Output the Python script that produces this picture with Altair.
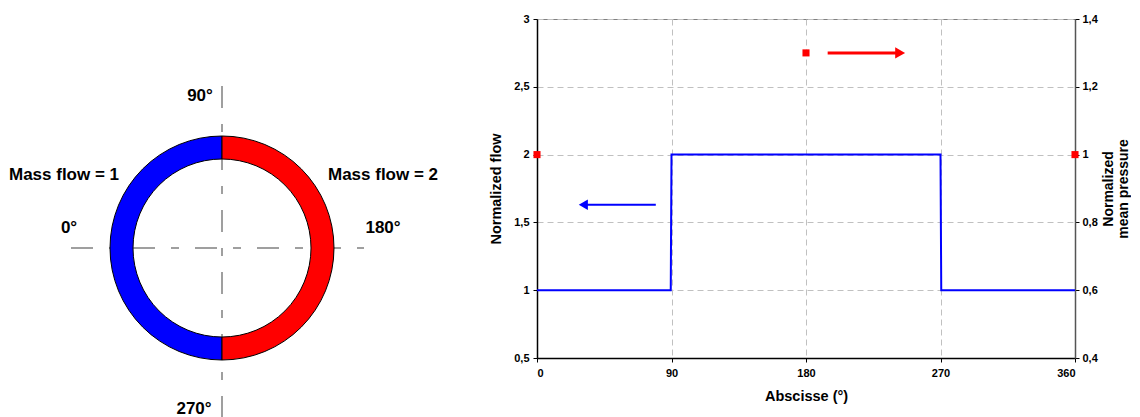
import math
import altair as alt
import pandas as pd

# ---------------- data ----------------
# left diagram (ring split in two halves)
half_labels = ["Mass flow = 1", "Mass flow = 2"]
half_colors = ["#0000ff", "#ff0000"]
half_theta_start = [math.pi, 0.0]
half_theta_end = [2 * math.pi, math.pi]
half_label_x = [-158, 161]
half_label_y = [68, 68]

angle_labels = ["0°", "90°", "180°", "270°"]
angle_label_x = [-153, -22, 161, -28]
angle_label_y = [15, 147, 15, -166]

# right chart
abscissa = [0, 89.5, 90, 270, 270.5, 360]
normalized_flow = [1, 1, 2, 2, 1, 1]
pressure_abscissa = [0, 180, 360]
normalized_pressure = [1.0, 1.3, 1.0]
flow_arrow_x = [79.5, 31]
flow_arrow_y = [1.63, 1.63]
pressure_arrow_x = [194.5, 243]
pressure_arrow_y = [1.3, 1.3]

x_ticks = [0, 90, 180, 270, 360]
flow_ticks = [0.5, 1, 1.5, 2, 2.5, 3]
pressure_ticks = [0.4, 0.6, 0.8, 1, 1.2, 1.4]

FONT = "Liberation Sans"

# ---------------- left diagram ----------------
W1, H1 = 479, 399
CX, CY = 213, 229
xs = alt.Scale(domain=[-CX, W1 - CX], nice=False, zero=False)
ys = alt.Scale(domain=[CY - H1, CY], nice=False, zero=False)

ring_df = pd.DataFrame({"label": half_labels, "color": half_colors,
                        "t0": half_theta_start, "t1": half_theta_end,
                        "cx": [0, 0], "cy": [0, 0],
                        "lx": half_label_x, "ly": half_label_y})
angle_df = pd.DataFrame({"label": angle_labels, "lx": angle_label_x, "ly": angle_label_y})
hline_df = pd.DataFrame({"x": [-151], "x2": [142], "y": [0]})
vline_df = pd.DataFrame({"x": [0], "y": [162], "y2": [-170]})

dash = [22, 16, 8, 16]
hline = alt.Chart(hline_df).mark_rule(color="#808080", strokeWidth=1.5, strokeDash=dash).encode(
    x=alt.X("x:Q", scale=xs, axis=None), x2="x2:Q", y=alt.Y("y:Q", scale=ys, axis=None))
vline = alt.Chart(vline_df).mark_rule(color="#808080", strokeWidth=1.5, strokeDash=dash).encode(
    x=alt.X("x:Q", scale=xs, axis=None), y=alt.Y("y:Q", scale=ys, axis=None), y2="y2:Q")
ring = alt.Chart(ring_df).mark_arc(radius=112, radius2=89, stroke="black", strokeWidth=1).encode(
    x=alt.X("cx:Q", scale=xs, axis=None), y=alt.Y("cy:Q", scale=ys, axis=None),
    theta=alt.Theta("t0:Q", scale=None), theta2="t1:Q",
    color=alt.Color("color:N", scale=None))
ring_text = alt.Chart(ring_df).mark_text(font=FONT, fontSize=17, fontWeight="bold",
                                         baseline="alphabetic", color="black").encode(
    x=alt.X("lx:Q", scale=xs, axis=None), y=alt.Y("ly:Q", scale=ys, axis=None), text="label:N")
angle_text = alt.Chart(angle_df).mark_text(font=FONT, fontSize=17, fontWeight="bold",
                                           baseline="alphabetic", color="black").encode(
    x=alt.X("lx:Q", scale=xs, axis=None), y=alt.Y("ly:Q", scale=ys, axis=None), text="label:N")

left = alt.layer(hline, vline, ring, ring_text, angle_text).properties(
    width=W1, height=H1, view=alt.ViewBackground(stroke=None))

# ---------------- right chart ----------------
flow_df = pd.DataFrame({"x": abscissa, "flow": normalized_flow})
pres_df = pd.DataFrame({"x": pressure_abscissa, "p": normalized_pressure})
farrow_df = pd.DataFrame({"x": flow_arrow_x, "flow": flow_arrow_y})
parrow_df = pd.DataFrame({"x": pressure_arrow_x, "p": pressure_arrow_y})

label_expr = "replace(toString(datum.value), '.', ',')"
X = alt.X("x:Q", scale=alt.Scale(domain=[0, 360], nice=False),
          axis=alt.Axis(values=x_ticks, title="Abscisse (°)", grid=True,
                        gridDash=[6, 4], gridColor="#c0c0c0", domainColor="black",
                        domainWidth=1.5, tickColor="black", tickSize=4, labelPadding=5,
                        labelFont=FONT, labelFontSize=11, labelFontWeight="bold",
                        labelColor="black", titleFont=FONT, titleFontSize=14.5,
                        titleFontWeight="bold", titleColor="black", titlePadding=11))
Yf = alt.Y("flow:Q", scale=alt.Scale(domain=[0.5, 3], nice=False, zero=False),
           axis=alt.Axis(values=flow_ticks, labelExpr=label_expr, title="Normalized flow",
                         grid=True, gridDash=[6, 4], gridColor="#c0c0c0", domainColor="black",
                         domainWidth=1.5, tickColor="black", tickSize=4, labelPadding=4,
                         labelFont=FONT, labelFontSize=11, labelFontWeight="bold",
                         labelColor="black", titleFont=FONT, titleFontSize=14.5,
                         titleFontWeight="bold", titleColor="black", titlePadding=10))
Yp = alt.Y("p:Q", scale=alt.Scale(domain=[0.4, 1.4], nice=False, zero=False),
           axis=alt.Axis(orient="right", values=pressure_ticks, labelExpr=label_expr,
                         title=["Normalized", "mean pressure"], titleAngle=270,
                         titleLineHeight=15,
                         grid=False, domainColor="#555555", domainWidth=1.5,
                         tickColor="black", tickSize=4, labelPadding=3,
                         labelFont=FONT, labelFontSize=11, labelFontWeight="bold",
                         labelColor="black", titleFont=FONT, titleFontSize=14,
                         titleFontWeight="bold", titleColor="black", titlePadding=3))

flow_line = alt.Chart(flow_df).mark_line(color="#0000ff", strokeWidth=2).encode(x=X, y=Yf)
flow_shaft = alt.Chart(farrow_df).mark_line(color="#0000ff", strokeWidth=2).encode(x=X, y=Yf)
flow_head = alt.Chart(farrow_df.iloc[[1]]).mark_point(shape="triangle-left", filled=True,
                                                     color="#0000ff", size=110, opacity=1).encode(x=X, y=Yf)
flow_layer = alt.layer(flow_line, flow_shaft, flow_head)

pres_pts = alt.Chart(pres_df).mark_square(color="#ff0000", size=50, opacity=1).encode(x=X, y=Yp)
pres_shaft = alt.Chart(parrow_df).mark_line(color="#ff0000", strokeWidth=3).encode(x=X, y=Yp)
pres_head = alt.Chart(parrow_df.iloc[[1]]).mark_point(shape="triangle-right", filled=True,
                                                     color="#ff0000", size=130, opacity=1).encode(x=X, y=Yp)
pres_layer = alt.layer(pres_pts, pres_shaft, pres_head)

right = alt.layer(flow_layer, pres_layer).resolve_scale(y="independent").properties(
    width=538, height=339, view=alt.ViewBackground(stroke="#808080"))

chart = alt.hconcat(left, right, spacing=0).properties(
    padding={"left": 0, "top": 4, "right": 0, "bottom": 0}
).configure(font=FONT)

chart.save("out.html", embed_options={"renderer": "svg", "actions": False})
